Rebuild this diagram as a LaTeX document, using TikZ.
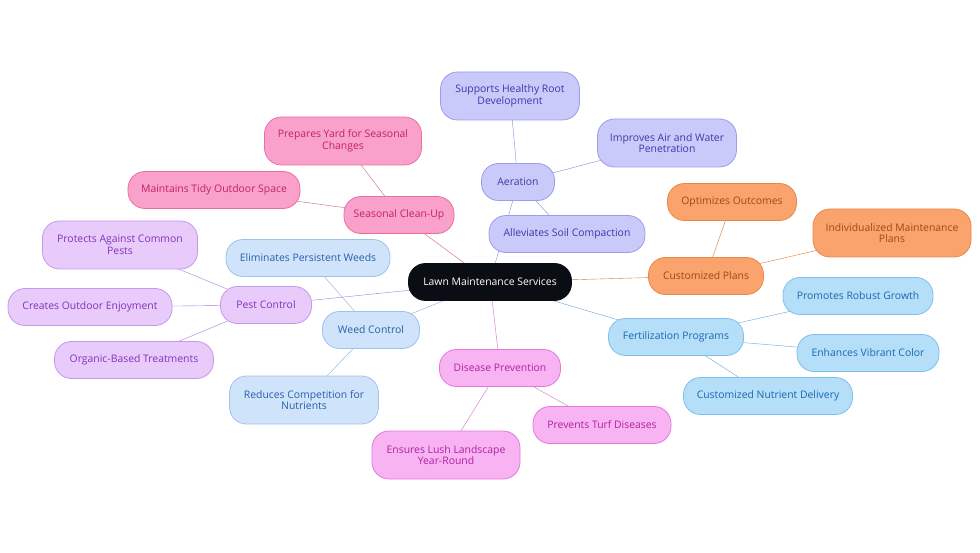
\documentclass[tikz,border=0pt]{standalone}
\usepackage{fontspec}
\setmainfont{Open Sans}
\usetikzlibrary{backgrounds}
\definecolor{aerF}{HTML}{C9C9FA}\definecolor{aerD}{HTML}{9C9CE8}\definecolor{aerT}{HTML}{3B3BA6}\definecolor{aerE}{HTML}{8A8AD8}
\definecolor{seaF}{HTML}{F9A1CB}\definecolor{seaD}{HTML}{E8709F}\definecolor{seaT}{HTML}{C0226B}\definecolor{seaE}{HTML}{D06080}
\definecolor{pesF}{HTML}{E9CBFB}\definecolor{pesD}{HTML}{C39AE8}\definecolor{pesT}{HTML}{8133B8}\definecolor{pesE}{HTML}{B07AD8}
\definecolor{weeF}{HTML}{CFE4FA}\definecolor{weeD}{HTML}{9EC2E8}\definecolor{weeT}{HTML}{2A5EA8}\definecolor{weeE}{HTML}{80AEE0}
\definecolor{disF}{HTML}{F8B3F3}\definecolor{disD}{HTML}{E07AD8}\definecolor{disT}{HTML}{B0229F}\definecolor{disE}{HTML}{D070C8}
\definecolor{cusF}{HTML}{FBA36C}\definecolor{cusD}{HTML}{E88848}\definecolor{cusT}{HTML}{A4470F}\definecolor{cusE}{HTML}{D87830}
\definecolor{ferF}{HTML}{B5DEF8}\definecolor{ferD}{HTML}{7FC0EA}\definecolor{ferT}{HTML}{1A6AAE}\definecolor{ferE}{HTML}{60A8D8}
\definecolor{rootF}{HTML}{0B0D14}
\tikzset{
  box/.style={rounded corners=17pt, line width=0.8pt, inner sep=0pt, minimum height=37pt, align=center, font=\fontsize{10.4}{11.6}\selectfont},
  tall/.style={minimum height=48pt},
  aer/.style={box, fill=aerF, draw=aerD, text=aerT},
  sea/.style={box, fill=seaF, draw=seaD, text=seaT},
  pes/.style={box, fill=pesF, draw=pesD, text=pesT},
  wee/.style={box, fill=weeF, draw=weeD, text=weeT},
  dis/.style={box, fill=disF, draw=disD, text=disT},
  cus/.style={box, fill=cusF, draw=cusD, text=cusT},
  fer/.style={box, fill=ferF, draw=ferD, text=ferT},
  rootbox/.style={box, fill=rootF, draw=rootF, text=white},
  edge/.style={line width=1.3pt}
}
\begin{document}
\begin{tikzpicture}[x=1pt,y=-1pt]
\useasboundingbox (0,0) rectangle (980,553);
% nodes
\node[rootbox, minimum width=163pt] (root) at (490,282) {Lawn Maintenance Services};

\node[aer, minimum width=73pt] (aera) at (518,182) {Aeration};
\node[aer, tall, minimum width=139pt] (aer1) at (510,96) {Supports Healthy Root\\Development};
\node[aer, tall, minimum width=139pt] (aer2) at (667,143) {Improves Air and Water\\Penetration};
\node[aer, minimum width=156pt] (aer3) at (567,234) {Alleviates Soil Compaction};

\node[sea, minimum width=110pt] (seas) at (399,215) {Seasonal Clean-Up};
\node[sea, tall, minimum width=157pt] (sea1) at (343,141) {Prepares Yard for Seasonal\\Changes};
\node[sea, minimum width=172pt] (sea2) at (214,190) {Maintains Tidy Outdoor Space};

\node[pes, minimum width=91pt] (pest) at (266,305) {Pest Control};
\node[pes, tall, minimum width=155pt] (pes1) at (120,245) {Protects Against Common\\Pests};
\node[pes, minimum width=164pt] (pes2) at (90,307) {Creates Outdoor Enjoyment};
\node[pes, minimum width=159pt] (pes3) at (134,360) {Organic-Based Treatments};

\node[wee, minimum width=97pt] (weed) at (371,330) {Weed Control};
\node[wee, minimum width=164pt] (wee1) at (308,258) {Eliminates Persistent Weeds};
\node[wee, tall, minimum width=149pt] (wee2) at (304,400) {Reduces Competition for\\Nutrients};

\node[dis, minimum width=121pt] (dise) at (500,368) {Disease Prevention};
\node[dis, minimum width=138pt] (dis1) at (602,425) {Prevents Turf Diseases};
\node[dis, tall, minimum width=148pt] (dis2) at (446,455) {Ensures Lush Landscape\\Year-Round};

\node[cus, minimum width=115pt] (cust) at (706,276) {Customized Plans};
\node[cus, minimum width=129pt] (cus1) at (732,202) {Optimizes Outcomes};
\node[cus, tall, minimum width=158pt] (cus2) at (892,233) {Individualized Maintenance\\Plans};

\node[fer, minimum width=135pt] (fert) at (676,337) {Fertilization Programs};
\node[fer, minimum width=150pt] (fer1) at (858,296) {Promotes Robust Growth};
\node[fer, minimum width=142pt] (fer2) at (868,353) {Enhances Vibrant Color};
\node[fer, minimum width=169pt] (fer3) at (768,396) {Customized Nutrient Delivery};

% edges behind nodes
\begin{scope}[on background layer, edge]
\draw[aerE] (root.center) -- (aera.center);
\draw[aerE] (aera.center) -- (aer1.center);
\draw[aerE] (aera.center) -- (aer2.center);
\draw[aerE] (aera.center) -- (aer3.center);
\draw[seaE] (root.center) -- (seas.center);
\draw[seaE] (seas.center) -- (sea1.center);
\draw[seaE] (seas.center) -- (sea2.center);
\draw[pesE] (root.center) -- (pest.center);
\draw[pesE] (pest.center) -- (pes1.center);
\draw[pesE] (pest.center) -- (pes2.center);
\draw[pesE] (pest.center) -- (pes3.center);
\draw[weeE] (root.center) -- (weed.center);
\draw[weeE] (weed.center) -- (wee1.center);
\draw[weeE] (weed.center) -- (wee2.center);
\draw[disE] (root.center) -- (dise.center);
\draw[disE] (dise.center) -- (dis1.center);
\draw[disE] (dise.center) -- (dis2.center);
\draw[cusE] (root.center) -- (cust.center);
\draw[cusE] (cust.center) -- (cus1.center);
\draw[cusE] (cust.center) -- (cus2.center);
\draw[ferE] (root.center) -- (fert.center);
\draw[ferE] (fert.center) -- (fer1.center);
\draw[ferE] (fert.center) -- (fer2.center);
\draw[ferE] (fert.center) -- (fer3.center);
\end{scope}
\end{tikzpicture}
\end{document}
